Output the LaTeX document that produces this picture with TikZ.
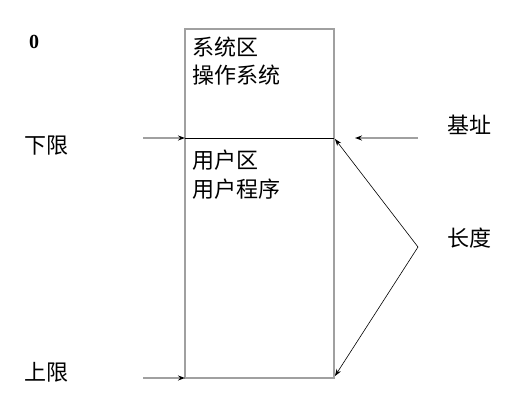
\documentclass[tikz,border=0pt]{standalone}
\usepackage{fontspec}
\setmainfont{Liberation Serif}
\newfontfamily\cjk{Noto Sans CJK SC}
\usetikzlibrary{arrows.meta}
\definecolor{edgegray}{HTML}{A0A0A0}
\begin{document}
\begin{tikzpicture}[x=1pt,y=1pt,
  lbl/.style={font=\cjk\fontsize{22}{26}\selectfont, inner sep=0pt, anchor=west},
  boxedge/.style={draw=edgegray, line width=1.2pt},
  grayarrow/.style={draw=edgegray, line width=1.2pt, -{Stealth[black,length=7pt,width=5pt]}},
  thinarrow/.style={draw=black, line width=0.6pt, -{Stealth[black,length=7pt,width=5pt]}}]
\useasboundingbox (0,0) rectangle (522,404);
% box corners
\coordinate (tl) at (185,375);
\coordinate (tr) at (334,375);
\coordinate (ml) at (185,266);
\coordinate (mr) at (334,266);
\coordinate (bl) at (185,26);
\coordinate (br) at (334,26);
\draw[boxedge] (ml) -- (tl) -- (tr) -- (mr);
\draw[boxedge] (ml) -- (bl) -- (br) -- (mr);
\draw[black, line width=0.7pt] (ml) -- (mr);
% texts
\node[font=\bfseries\fontsize{20}{24}\selectfont, inner sep=0pt] (zero) at (34,362) {0};
\node[lbl] (s1) at (192,357) {系统区};
\node[lbl] (s2) at (192,329) {操作系统};
\node[lbl] (u1) at (192,244) {用户区};
\node[lbl] (u2) at (192,215) {用户程序};
\node[lbl] (xia) at (24,258) {下限};
\node[lbl] (shang) at (24,32) {上限};
\node[lbl] (jizhi) at (447,279) {基址};
\node[lbl] (len) at (447,166) {长度};
% arrows
\coordinate (xiaS) at (143,266);
\coordinate (shangS) at (143,26);
\coordinate (jiS) at (418,266);
\coordinate (jiE) at (355,266);
\coordinate (apex) at (418,157);
\coordinate (topT) at (335,265);
\coordinate (botT) at (335,28);
\draw[grayarrow] (xiaS) -- (ml);
\draw[grayarrow] (shangS) -- (bl);
\draw[grayarrow] (jiS) -- (jiE);
\draw[thinarrow] (apex) -- (topT);
\draw[thinarrow] (apex) -- (botT);
\end{tikzpicture}
\end{document}
